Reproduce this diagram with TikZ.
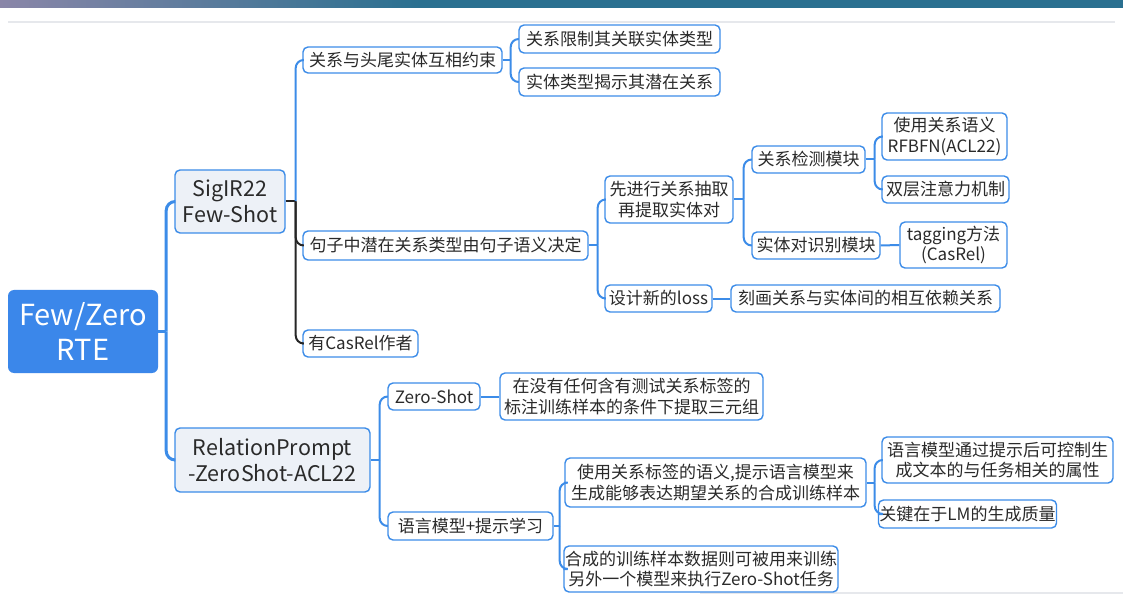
\documentclass[tikz,border=0pt]{standalone}
\usepackage{fontspec}
\setmainfont{Noto Sans CJK SC}
\usetikzlibrary{calc}
\definecolor{lnblue}{HTML}{3C8CE8}
\definecolor{rootblue}{HTML}{3B87EA}
\definecolor{subfill}{HTML}{EDF1F7}
\definecolor{txt}{HTML}{2A2A2A}
\definecolor{band}{HTML}{2A7090}
\definecolor{bandleft}{HTML}{8A86A8}
\definecolor{faint}{HTML}{E6E8EC}
\tikzset{
  box/.style={draw=lnblue, line width=1.4pt, rounded corners=5pt, fill=white, text=txt,
    font=\fontsize{17}{20.5}\selectfont, inner xsep=1pt, inner ysep=2pt, align=center},
  sub/.style={box, fill=subfill, font=\fontsize{21.5}{26}\selectfont},
  rootbox/.style={fill=rootblue, rounded corners=6pt, text=white,
    font=\fontsize{29}{35}\selectfont, align=center, inner sep=2pt},
  conn/.style={draw=lnblue, line width=2pt, rounded corners=8pt},
  connk/.style={draw=black!85, line width=2pt, rounded corners=8pt},
  connr/.style={draw=lnblue, line width=3pt, rounded corners=9pt}
}
\begin{document}
\begin{tikzpicture}[x=1pt,y=-1pt]
\useasboundingbox (0,0) rectangle (1123,609);
\fill[white] (0,0) rectangle (1123,609);
% top band of the slide
\shade[left color=bandleft, right color=band] (0,0) rectangle (420,8);
\fill[band] (420,0) rectangle (1123,8);
\draw[faint, line width=1.5pt] (8,22) -- (1115,22);
\draw[faint, line width=1.5pt] (700,593) -- (1123,593);

% nodes
\node[rootbox, minimum width=150pt, minimum height=83pt] (root) at (83,331.5) {Few/Zero\\RTE};
\node[sub, minimum width=110pt, minimum height=63pt] (sig) at (230,201.5) {SigIR22\\Few-Shot};
\node[sub, minimum width=195pt, minimum height=64pt] (rp) at (272.5,460) {RelationPrompt\\-ZeroShot-ACL22};

\node[box, minimum width=199pt, minimum height=26pt] (r1) at (402.5,60) {关系与头尾实体互相约束};
\node[box, minimum width=201pt, minimum height=28pt] (r1a) at (619.5,39) {关系限制其关联实体类型};
\node[box, minimum width=201pt, minimum height=28pt] (r1b) at (619.5,82) {实体类型揭示其潜在关系};
\node[box, minimum width=285pt, minimum height=29pt] (r2) at (445.5,245.5) {句子中潜在关系类型由句子语义决定};
\node[box, minimum width=115pt, minimum height=27pt] (r3) at (360.5,343.5) {有CasRel作者};
\node[box, minimum width=128pt, minimum height=47pt] (r2a) at (669,199.5) {先进行关系抽取\\再提取实体对};
\node[box, minimum width=107pt, minimum height=27pt] (r2b) at (658.5,298.5) {设计新的loss};
\node[box, minimum width=113pt, minimum height=27pt] (r2a1) at (808.5,159.5) {关系检测模块};
\node[box, minimum width=128pt, minimum height=27pt] (r2a2) at (816,245.5) {实体对识别模块};
\node[box, minimum width=125pt, minimum height=47pt] (r2a1a) at (944.5,136.5) {使用关系语义\\RFBFN(ACL22)};
\node[box, minimum width=127pt, minimum height=27pt] (r2a1b) at (945.5,189.5) {双层注意力机制};
\node[box, minimum width=107pt, minimum height=46pt] (r2a2a) at (953.5,245) {tagging方法\\(CasRel)};
\node[box, minimum width=269pt, minimum height=27pt] (r2b1) at (865.5,298.5) {刻画关系与实体间的相互依赖关系};

\node[box, minimum width=92pt, minimum height=27pt] (z1) at (434,396.5) {Zero-Shot};
\node[box, minimum width=263pt, minimum height=47pt] (z1a) at (631.5,396.5) {在没有任何含有测试关系标签的\\标注训练样本的条件下提取三元组};
\node[box, minimum width=165pt, minimum height=28pt] (z2) at (470.5,526) {语言模型+提示学习};
\node[box, minimum width=301pt, minimum height=49pt] (z2a) at (715.5,482.5) {使用关系标签的语义,提示语言模型来\\生成能够表达期望关系的合成训练样本};
\node[box, minimum width=272pt, minimum height=46pt] (z2b) at (701,569) {合成的训练样本数据则可被用来训练\\另外一个模型来执行Zero-Shot任务};
\node[box, minimum width=231pt, minimum height=46pt] (z2a1) at (997.5,460) {语言模型通过提示后可控制生\\成文本的与任务相关的属性};
\node[box, minimum width=171pt, minimum height=28pt] (z2a2) at (967.5,514) {关键在于LM的生成质量};

% spine coordinates
\coordinate (sroot) at ($(root.east)+(8,0)$);
\coordinate (ssig) at ($(sig.east)+(10,0)$);
\coordinate (sr1) at ($(r1.east)+(8,0)$);
\coordinate (sr2) at ($(r2.east)+(9,0)$);
\coordinate (sr2a) at ($(r2a.east)+(10,0)$);
\coordinate (sr2a1) at ($(r2a1.east)+(9,0)$);
\coordinate (srp) at ($(rp.east)+(9,0)$);
\coordinate (sz2) at ($(z2.east)+(6,0)$);
\coordinate (sz2a) at ($(z2a.east)+(8,0)$);

% connectors
\draw[connr] (root.east) -- (sroot);
\draw[connr] (sroot) |- (sig.west);
\draw[connr] (sroot) |- (rp.west);

\draw[connk] (sig.east) -- (ssig);
\draw[conn] (ssig) |- (r1.west);
\draw[connk] (ssig) |- (r2.west);
\draw[connk] (ssig) |- (r3.west);

\draw[conn] (r1.east) -- (sr1);
\draw[conn] (sr1) |- (r1a.west);
\draw[conn] (sr1) |- (r1b.west);

\draw[conn] (r2.east) -- (sr2);
\draw[conn] (sr2) |- (r2a.west);
\draw[conn] (sr2) |- (r2b.west);

\draw[conn] (r2a.east) -- (sr2a);
\draw[conn] (sr2a) |- (r2a1.west);
\draw[conn] (sr2a) |- (r2a2.west);

\draw[conn] (r2a1.east) -- (sr2a1);
\draw[conn] (sr2a1) |- (r2a1a.west);
\draw[conn] (sr2a1) |- (r2a1b.west);

\draw[conn] (r2a2.east) -- (r2a2a.west);
\draw[conn] (r2b.east) -- (r2b1.west);

\draw[conn] (rp.east) -- (srp);
\draw[conn] (srp) |- (z1.west);
\draw[conn] (srp) |- (z2.west);
\draw[conn] (z1.east) -- (z1a.west);

\draw[conn] (z2.east) -- (sz2);
\draw[conn] (sz2) |- (z2a.west);
\draw[conn] (sz2) |- (z2b.west);

\draw[conn] (z2a.east) -- (sz2a);
\draw[conn] (sz2a) |- (z2a1.west);
\draw[conn] (sz2a) |- (z2a2.west);
\end{tikzpicture}
\end{document}
